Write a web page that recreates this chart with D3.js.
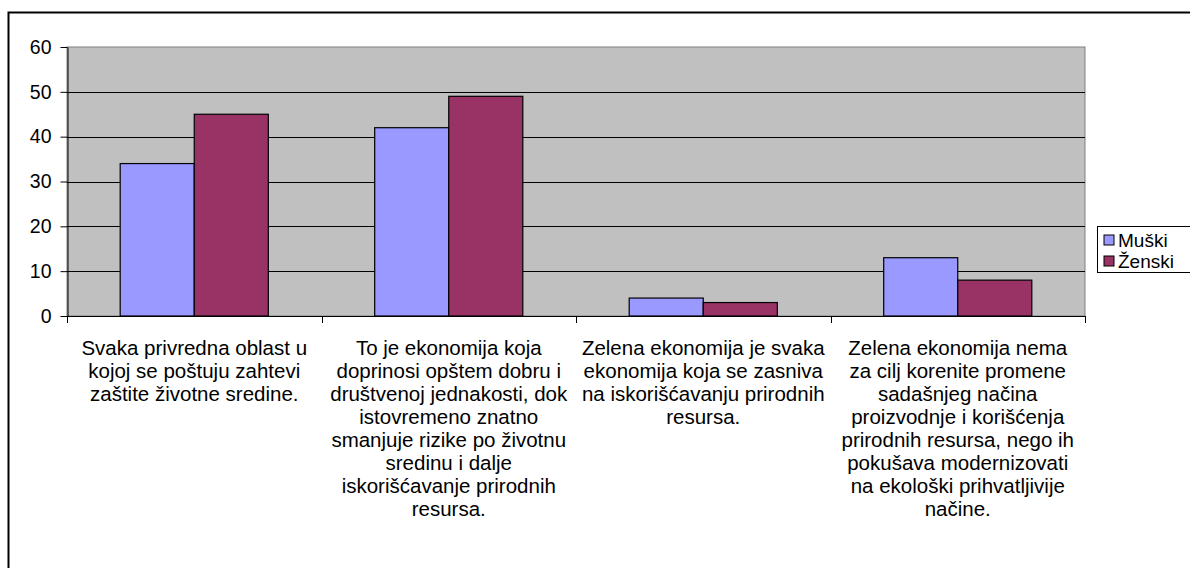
<!DOCTYPE html>
<html>
<head>
<meta charset="utf-8">
<script src="https://cdn.jsdelivr.net/npm/d3@7"></script>
<style>
  body { margin: 0; background: #fff; }
  text { font-family: "Liberation Sans", Arial, sans-serif; fill: #000; }
</style>
</head>
<body>
<div id="chart"></div>
<script>
const categories = [
  ['Svaka privredna oblast u', 'kojoj se poštuju zahtevi', 'zaštite životne sredine.'],
  ['To je ekonomija koja', 'doprinosi opštem dobru i', 'društvenoj jednakosti, dok', 'istovremeno znatno',
   'smanjuje rizike po životnu', 'sredinu i dalje', 'iskorišćavanje prirodnih', 'resursa.'],
  ['Zelena ekonomija je svaka', 'ekonomija koja se zasniva', 'na iskorišćavanju prirodnih', 'resursa.'],
  ['Zelena ekonomija nema', 'za cilj korenite promene', 'sadašnjeg načina', 'proizvodnje i korišćenja',
   'prirodnih resursa, nego ih', 'pokušava modernizovati', 'na ekološki prihvatljivije', 'načine.']
];
const seriesNames = ['Muški', 'Ženski'];
const muski = [34, 42, 4, 13];
const zenski = [45, 49, 3, 8];
const yTicks = [0, 10, 20, 30, 40, 50, 60];

const COLORS = {
  plot: '#C0C0C0',
  series: ['#9999FF', '#993366']
};
const FONT_SIZE = 19.5;
const LABEL_SIZE = 20.5;

const width = 1190, height = 568;
const plot = { left: 67, right: 1085, top: 47, bottom: 316 };

const svg = d3.select('#chart').append('svg')
  .attr('width', width)
  .attr('height', height)
  .attr('viewBox', [0, 0, width, height]);

// outer chart frame (runs off the right and bottom edges)
svg.append('rect')
  .attr('x', 8.5).attr('y', 12.5)
  .attr('width', 1300).attr('height', 700)
  .attr('fill', 'none')
  .attr('stroke', '#000')
  .attr('stroke-width', 2);

const catIdx = categories.map((_, i) => i);
const x0 = d3.scaleBand().domain(catIdx).range([plot.left, plot.right]).padding(0);
const bw = x0.bandwidth();
const gap = bw * 0.418;
const x1 = d3.scaleBand().domain(seriesNames).range([gap / 2, bw - gap / 2]).padding(0);
const y = d3.scaleLinear().domain([0, 60]).range([plot.bottom, plot.top]);

// plot background
svg.append('rect')
  .attr('x', plot.left).attr('y', plot.top)
  .attr('width', plot.right - plot.left).attr('height', plot.bottom - plot.top)
  .attr('fill', COLORS.plot)
  .attr('stroke', '#808080')
  .attr('stroke-width', 1);

// gridlines
svg.append('g')
  .selectAll('line')
  .data(yTicks.filter(d => d > 0 && d < 60))
  .join('line')
    .attr('x1', plot.left).attr('x2', plot.right)
    .attr('y1', d => Math.round(y(d)) + 0.5)
    .attr('y2', d => Math.round(y(d)) + 0.5)
    .attr('stroke', '#000')
    .attr('stroke-width', 1);

// bars
const data = catIdx.map(i => ({ i, values: [muski[i], zenski[i]] }));
svg.append('g')
  .selectAll('g')
  .data(data)
  .join('g')
    .attr('transform', d => `translate(${x0(d.i)},0)`)
  .selectAll('rect')
  .data(d => d.values.map((v, k) => ({ key: seriesNames[k], v, k })))
  .join('rect')
    .attr('x', d => x1(d.key))
    .attr('y', d => y(d.v))
    .attr('width', x1.bandwidth())
    .attr('height', d => y(0) - y(d.v))
    .attr('fill', d => COLORS.series[d.k])
    .attr('stroke', '#000')
    .attr('stroke-width', 1.2);

// y axis
const yAxis = svg.append('g')
  .attr('transform', `translate(${plot.left + 0.5},0)`)
  .call(d3.axisLeft(y).tickValues(yTicks).tickSize(7).tickPadding(9).tickSizeOuter(0));
yAxis.select('.domain').attr('stroke', '#000');
yAxis.selectAll('.tick line').attr('stroke', '#000');
yAxis.selectAll('text').attr('font-size', FONT_SIZE).attr('fill', '#000')
  .attr('font-family', '"Liberation Sans", Arial, sans-serif');

// x axis line + ticks at category boundaries
svg.append('line')
  .attr('x1', plot.left).attr('x2', plot.right)
  .attr('y1', plot.bottom + 0.5).attr('y2', plot.bottom + 0.5)
  .attr('stroke', '#000');
svg.append('g')
  .selectAll('line')
  .data(catIdx.concat([categories.length]))
  .join('line')
    .attr('x1', d => Math.round(plot.left + d * bw) + 0.5)
    .attr('x2', d => Math.round(plot.left + d * bw) + 0.5)
    .attr('y1', plot.bottom)
    .attr('y2', plot.bottom + 7)
    .attr('stroke', '#000');

// category labels
const labels = svg.append('g')
  .selectAll('text')
  .data(data)
  .join('text')
    .attr('text-anchor', 'middle')
    .attr('font-size', LABEL_SIZE)
    .attr('x', d => x0(d.i) + bw / 2)
    .attr('y', 355);
labels.selectAll('tspan')
  .data(d => categories[d.i])
  .join('tspan')
    .attr('x', function() { return this.parentNode.getAttribute('x'); })
    .attr('dy', (d, k) => k === 0 ? 0 : 23)
    .text(d => d);

// legend
const legend = svg.append('g').attr('transform', 'translate(1097,226)');
legend.append('rect')
  .attr('x', 0.5).attr('y', 0.5)
  .attr('width', 120).attr('height', 46)
  .attr('fill', '#fff')
  .attr('stroke', '#000');
const item = legend.selectAll('g.item')
  .data(seriesNames)
  .join('g')
    .attr('class', 'item')
    .attr('transform', (d, k) => `translate(7,${4 + k * 21})`);
item.append('rect')
  .attr('width', 10).attr('height', 10)
  .attr('y', 5)
  .attr('fill', (d, k) => COLORS.series[k])
  .attr('stroke', '#000');
item.append('text')
  .attr('x', 14)
  .attr('y', 17)
  .attr('font-size', 19)
  .text(d => d);
</script>
</body>
</html>
